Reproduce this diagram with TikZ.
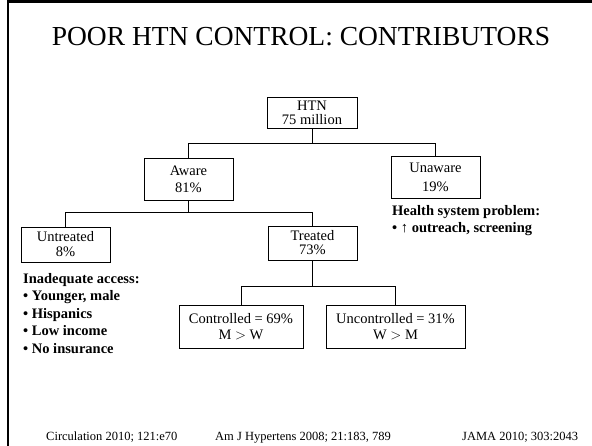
\documentclass[tikz,border=0pt]{standalone}
\usepackage{fontspec}
\setmainfont{Liberation Serif}

\begin{document}
\begin{tikzpicture}[x=1pt,y=-1pt,
  box/.style={draw, rectangle, line width=.8pt, align=center, inner sep=0pt, font=\fontsize{14.5}{16}\selectfont},
  note/.style={anchor=north west, align=left, inner sep=0pt, font=\fontsize{14.5}{17.5}\selectfont\bfseries},
  cite/.style={anchor=base west, inner sep=0pt, font=\fontsize{12.5}{14}\selectfont},
  link/.style={line width=.8pt}]
\useasboundingbox (0,0) rectangle (592,446);
\draw [line width=2.8pt] (8,446) -- (8,1.4) -- (592,1.4);
\node[anchor=base, inner sep=0pt, font=\fontsize{27.5}{30}\selectfont] (title) at (301,46) {POOR HTN CONTROL: CONTRIBUTORS};
\node[box, minimum width=90pt, minimum height=31pt] (htn) at (312,112.5) {HTN\\[-2pt]75 million};
\node[box, minimum width=89pt, minimum height=42pt] (aware) at (188.5,179) {Aware\\[1pt]81\%};
\node[box, minimum width=89pt, minimum height=42pt] (unaware) at (435.5,177) {Unaware\\[3pt]19\%};
\node[box, minimum width=89pt, minimum height=35pt] (untreated) at (65.5,244.5) {Untreated\\[-1pt]8\%};
\node[box, minimum width=89pt, minimum height=34pt] (treated) at (312.5,243) {Treated\\[-2pt]73\%};
\node[box, minimum width=124pt, minimum height=43pt] (ctrl) at (241,326.5) {Controlled = 69\%\\M $>$ W};
\node[box, minimum width=139pt, minimum height=43pt] (unctrl) at (395.5,326.5) {Uncontrolled = 31\%\\W $>$ M};
\node[note] (access) at (23,273) {Inadequate access:\\• Younger, male\\• Hispanics\\• Low income\\• No insurance};
\node[note, font=\fontsize{14.5}{17}\selectfont\bfseries] (health) at (392,205) {Health system problem:\\• ↑ outreach, screening};
\draw [link] (htn.south) -- ++(0,15) coordinate (j1);
\draw [link] (j1) -| (aware.north);
\draw [link] (j1) -| (unaware.north);
\draw [link] (aware.south) -- ++(0,12) coordinate (j2);
\draw [link] (j2) -| (untreated.north);
\draw [link] (j2) -| (treated.north);
\draw [link] (treated.south) -- ++(0,26) coordinate (j3);
\draw [link] (j3) -| (ctrl.north);
\draw [link] (j3) -| (unctrl.north);
\node[cite] (circ) at (46,440.5) {Circulation 2010; 121:e70};
\node[cite] (ajh) at (215,440.5) {Am J Hypertens 2008; 21:183, 789};
\node[cite] (jama) at (462,440.5) {JAMA 2010; 303:2043};
\end{tikzpicture}
\end{document}
